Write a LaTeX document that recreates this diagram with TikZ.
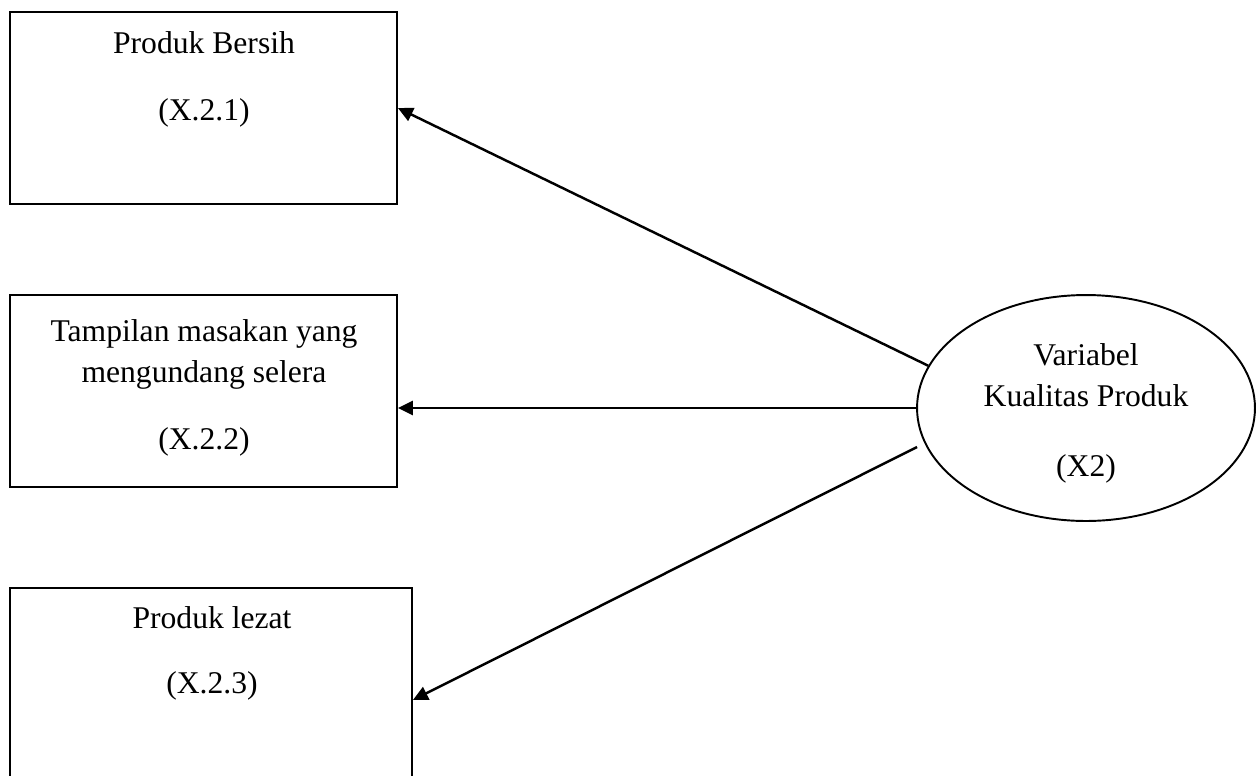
\documentclass[tikz,border=0pt]{standalone}
\usepackage{fontspec}
\setmainfont{Liberation Serif}
\usetikzlibrary{shapes.geometric,arrows.meta}

\begin{document}
\begin{tikzpicture}[x=0.02cm,y=-0.02cm,
        kotak/.style={draw,line width=1.1pt,inner sep=0pt},
        elips/.style={draw,ellipse,line width=1.1pt,inner sep=0pt,
            minimum width=6.76cm,minimum height=4.52cm},
        teks/.style={align=center,inner sep=0pt,anchor=north,
            font=\fontsize{18}{23.2}\selectfont},
        panah/.style={line width=1.4pt,-{Triangle[length=8.5pt,width=8pt]}}]
    \useasboundingbox (0,0) rectangle (1257,775);

    % indikator
    \node[kotak,minimum width=7.74cm,minimum height=3.84cm] (b1) at (203.5,108) {};
    \node[kotak,minimum width=7.74cm,minimum height=3.84cm] (b2) at (203.5,391) {};
    \node[kotak,minimum width=8.04cm,minimum height=4.48cm] (b3) at (211,700) {};

    \node[teks] (t1) at (204,31) {Produk Bersih\\[15.3pt](X.2.1)};
    \node[teks] (t2) at (204,319.3)
        {Tampilan masakan yang\\mengundang selera\\[14.8pt](X.2.2)};
    \node[teks] (t3) at (212,606.3) {Produk lezat\\[13.6pt](X.2.3)};

    % variabel
    \node[elips] (var) at (1086,408) {};
    \node[teks] (tv) at (1086,343.3) {Variabel\\Kualitas Produk\\[17pt](X2)};

    \coordinate (s3) at (917,447);
    \draw[panah] (var.165) -- (b1.east);
    \draw[panah] (var.west) -- (b2.east |- var.west);
    \draw[panah] (s3) -- (b3.east);
\end{tikzpicture}
\end{document}
